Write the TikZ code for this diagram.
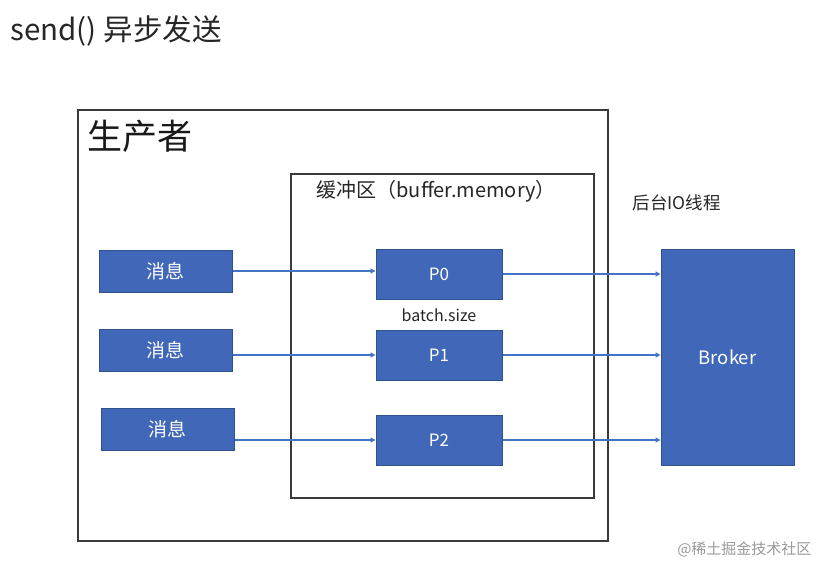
\documentclass[tikz,border=0pt]{standalone}
\usepackage{fontspec}
\setmainfont{Noto Sans CJK SC}
\usetikzlibrary{arrows.meta}
\definecolor{boxblue}{HTML}{4167B9}
\definecolor{boxedge}{HTML}{2F528F}
\definecolor{arrowblue}{HTML}{4472C4}
\definecolor{frame}{HTML}{3A3A3A}
\tikzset{
  bluebox/.style={draw=boxedge, line width=1pt, fill=boxblue, text=white, inner sep=0pt},
  conn/.style={draw=arrowblue, line width=1.2pt, -{Triangle[length=5pt,width=5pt]}},
  frm/.style={draw=frame, line width=1.2pt},
}
\begin{document}
\begin{tikzpicture}[x=1pt,y=-1pt]
\useasboundingbox (0,0) rectangle (820,565);
\fill[white] (0,0) rectangle (820,565);
% title
\node[anchor=west, font=\fontsize{29.5}{32}\selectfont, text=black!85] (title) at (7,31) {send() 异步发送};
% producer frame
\node[frm, minimum width=530pt, minimum height=431pt, inner sep=0pt] (prod) at (343,325.5) {};
\node[anchor=west, font=\fontsize{35}{38}\selectfont, text=black!90] (prodlbl) at (84,136) {生产者};
% buffer frame
\node[frm, minimum width=303pt, minimum height=324pt, inner sep=0pt] (buf) at (442.5,336) {};
\node[anchor=west, font=\fontsize{20}{24}\selectfont, text=black!85] (buflbl) at (313,191) {缓冲区（buffer.memory）};
% IO thread label
\node[anchor=west, font=\fontsize{17.5}{20}\selectfont, text=black!85] (io) at (629,203) {后台IO线程};
% messages
\tikzset{msg/.style={bluebox, minimum width=133pt, minimum height=42pt, font=\fontsize{19}{22}\selectfont}}
\node[msg] (m1) at (165.5,271) {消息};
\node[msg] (m2) at (165.5,350) {消息};
\node[msg] (m3) at (167.5,429.5) {消息};
% partitions
\tikzset{part/.style={bluebox, minimum width=126pt, minimum height=50pt, font=\fontsize{17}{20}\selectfont}}
\node[part] (p0) at (439,274) {P0};
\node[part] (p1) at (439,355) {P1};
\node[part] (p2) at (439,440) {P2};
\node[font=\fontsize{16}{19}\selectfont, text=black!85] (bs) at (439,315) {batch.size};
% broker
\node[bluebox, minimum width=133pt, minimum height=216pt, font=\fontsize{18.5}{21}\selectfont] (broker) at (727.5,357) {Broker};
% connectors
\draw[conn] (m1.east) -- (m1.east -| p0.west);
\draw[conn] (m2.east |- p1.west) -- (p1.west);
\draw[conn] (m3.east |- p2.west) -- (p2.west);
\draw[conn] (p0.east) -- (p0.east -| broker.west);
\draw[conn] (p1.east) -- (p1.east -| broker.west);
\draw[conn] (p2.east) -- (p2.east -| broker.west);
% watermark
\node[anchor=east, font=\fontsize{15}{18}\selectfont, text=black!40] (wm) at (815,549) {@稀土掘金技术社区};
\end{tikzpicture}
\end{document}
